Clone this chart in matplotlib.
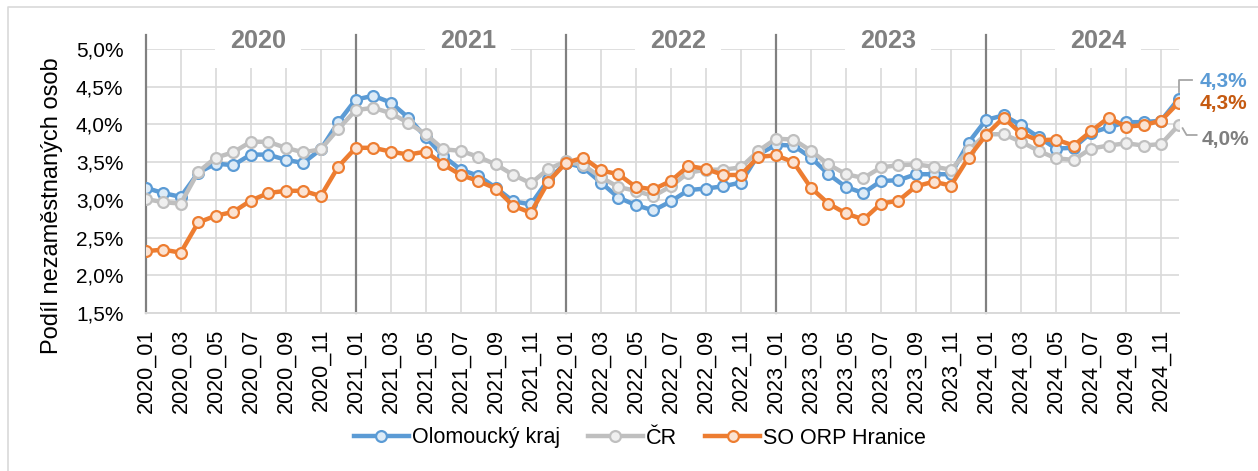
import matplotlib
matplotlib.use('Agg')
import matplotlib.pyplot as plt
from matplotlib.lines import Line2D
from matplotlib.ticker import FuncFormatter, FixedLocator

# ---------------- data ----------------
years = [2020, 2021, 2022, 2023, 2024]
months = [f"{y}_{m:02d}" for y in years for m in range(1, 13)]

olomoucky = [3.16, 3.09, 3.04, 3.36, 3.48, 3.46, 3.60, 3.60, 3.53, 3.49, 3.67, 4.03,
             4.33, 4.38, 4.29, 4.09, 3.83, 3.58, 3.40, 3.32, 3.16, 2.98, 2.94, 3.27,
             3.49, 3.43, 3.23, 3.03, 2.93, 2.86, 2.98, 3.13, 3.15, 3.18, 3.23, 3.60,
             3.73, 3.72, 3.56, 3.34, 3.17, 3.09, 3.25, 3.26, 3.34, 3.34, 3.34, 3.76,
             4.06, 4.12, 3.99, 3.83, 3.68, 3.69, 3.89, 3.96, 4.03, 4.03, 4.05, 4.34]

cr = [3.01, 2.97, 2.95, 3.37, 3.56, 3.63, 3.77, 3.77, 3.69, 3.63, 3.67, 3.94,
      4.19, 4.22, 4.15, 4.02, 3.87, 3.67, 3.65, 3.57, 3.47, 3.33, 3.22, 3.41,
      3.51, 3.46, 3.30, 3.17, 3.12, 3.05, 3.18, 3.36, 3.40, 3.40, 3.43, 3.65,
      3.81, 3.80, 3.65, 3.47, 3.34, 3.29, 3.43, 3.46, 3.47, 3.44, 3.40, 3.66,
      3.87, 3.87, 3.77, 3.65, 3.55, 3.53, 3.68, 3.72, 3.75, 3.72, 3.74, 3.99]

hranice = [2.32, 2.34, 2.30, 2.70, 2.79, 2.84, 2.99, 3.09, 3.12, 3.12, 3.05, 3.44,
           3.69, 3.69, 3.64, 3.60, 3.64, 3.47, 3.33, 3.25, 3.15, 2.92, 2.83, 3.24,
           3.49, 3.56, 3.39, 3.34, 3.17, 3.14, 3.25, 3.45, 3.41, 3.33, 3.33, 3.57,
           3.59, 3.50, 3.16, 2.95, 2.82, 2.74, 2.95, 2.99, 3.18, 3.24, 3.19, 3.56,
           3.86, 4.09, 3.88, 3.79, 3.80, 3.72, 3.91, 4.09, 3.97, 3.99, 4.05, 4.29]

series_names = ["Olomoucký kraj", "ČR", "SO ORP Hranice"]
y_label = "Podíl nezaměstnaných osob"

# ---------------- style ----------------
FONT = "Liberation Sans"
plt.rcParams['font.family'] = [FONT, 'DejaVu Sans']

W, H = 1258, 471
fig = plt.figure(figsize=(W / 100, H / 100), dpi=100)
ax_left, ax_right, ax_top, ax_bot = 145.7, 1178.6, 49, 313
ax = fig.add_axes([ax_left / W, 1 - ax_bot / H, (ax_right - ax_left) / W, (ax_bot - ax_top) / H])

x = list(range(len(months)))
styles = [
    (olomoucky, '#5B9BD5', '#DDEBF7', '#5B9BD5'),
    (cr, '#BFBFBF', '#EFEFEF', '#7F7F7F'),
    (hranice, '#ED7D31', '#FBE3D3', '#C55A11'),
]
for (vals, col, fill, _), name in zip(styles, series_names):
    ax.plot(x, vals, color=col, lw=3.2, marker='o', ms=7.8, mfc=fill, mec=col,
            mew=1.6, label=name, zorder=3, solid_joinstyle='round')

ymin, ymax = 1.5, 5.0
ax.set_xlim(0, len(months) - 1)
ax.set_ylim(ymin, ymax)
px_per_unit = (ax_bot - ax_top) / (ymax - ymin)
px_per_month = (ax_right - ax_left) / (len(months) - 1)

ax.yaxis.set_major_locator(FixedLocator([1.5 + 0.5 * i for i in range(8)]))
ax.yaxis.set_major_formatter(FuncFormatter(lambda v, p: f"{v:.1f}%".replace('.', ',')))
ax.set_xticks(x[::2])
ax.set_xticklabels(months[::2], rotation=90, fontsize=15.5, color='#000000')
ax.tick_params(axis='x', length=0, pad=11.5)
ax.tick_params(axis='y', length=0, pad=16, labelsize=15)

ax.grid(True, color='#D9D9D9', lw=1.2, zorder=0)
ax.set_axisbelow(True)
for s in ['top', 'right', 'left']:
    ax.spines[s].set_visible(False)
ax.spines['bottom'].set_color('#D9D9D9')
ax.spines['bottom'].set_linewidth(1.4)

# year separator lines (incl. left axis)
top_ext = ymax + (ax_top - 35) / px_per_unit
for i in range(len(years)):
    ax.plot([12 * i, 12 * i], [ymin, top_ext], color='#808080', lw=1.6,
            clip_on=False, zorder=2)

# year labels with white box
for i, yr in enumerate(years):
    ax.text(12 * i + 6.4, ymax + (ax_top - 40.5) / px_per_unit, str(yr),
            ha='center', va='center', fontsize=18.2, fontweight='bold', color='#808080',
            bbox=dict(facecolor='white', edgecolor='none', pad=11), zorder=2.5)

# y label
fig.text(52 / W, 1 - 206 / H, y_label, rotation=90, ha='center', va='center', fontsize=17)

# end labels with leader lines
last = len(months) - 1
lab_x = last + (1200 - ax_right) / px_per_month
def yv(py):
    return ymax - (py - ax_top) / px_per_unit
def fmt(v):
    return f"{v:.1f}%".replace('.', ',')

# Olomoucky
ax.plot([last, last, last + 13 / px_per_month],
        [olomoucky[-1] + 7 / px_per_unit, yv(80), yv(80)],
        color='#A6A6A6', lw=1.3, clip_on=False, zorder=2)
ax.text(lab_x, yv(82), fmt(olomoucky[-1]), color=styles[0][3], fontsize=15,
        fontweight='bold', ha='left', va='center', clip_on=False)
# Hranice
ax.text(lab_x, yv(104), fmt(hranice[-1]), color=styles[2][3], fontsize=15,
        fontweight='bold', ha='left', va='center', clip_on=False)
# CR
ax.plot([last + 4 / px_per_month, last + 8 / px_per_month, last + 18 / px_per_month],
        [cr[-1] - 3 / px_per_unit, yv(135), yv(135)],
        color='#A6A6A6', lw=1.3, clip_on=False, zorder=2)
ax.text(last + (1202 - ax_right) / px_per_month, yv(139), fmt(cr[-1]), color=styles[1][3],
        fontsize=15, fontweight='bold', ha='left', va='center', clip_on=False)

# legend
handles = [Line2D([], [], color=c, lw=3.2, marker='o', ms=7.8, mfc=f, mec=c, mew=1.6)
           for (_, c, f, _) in styles]
fig.legend(handles, series_names, loc='center', bbox_to_anchor=(640 / W, 1 - 438 / H),
           ncol=3, frameon=False, fontsize=15.5, handlelength=2.55, handletextpad=0.15,
           columnspacing=1.3, numpoints=1)

# chart area frame (partly cut off)
fig.add_artist(Line2D([8 / W, 8 / W, 1], [0, 1 - 7 / H, 1 - 7 / H],
                      transform=fig.transFigure, color='#D9D9D9', lw=1.2))

fig.savefig('out.png', dpi=100)
